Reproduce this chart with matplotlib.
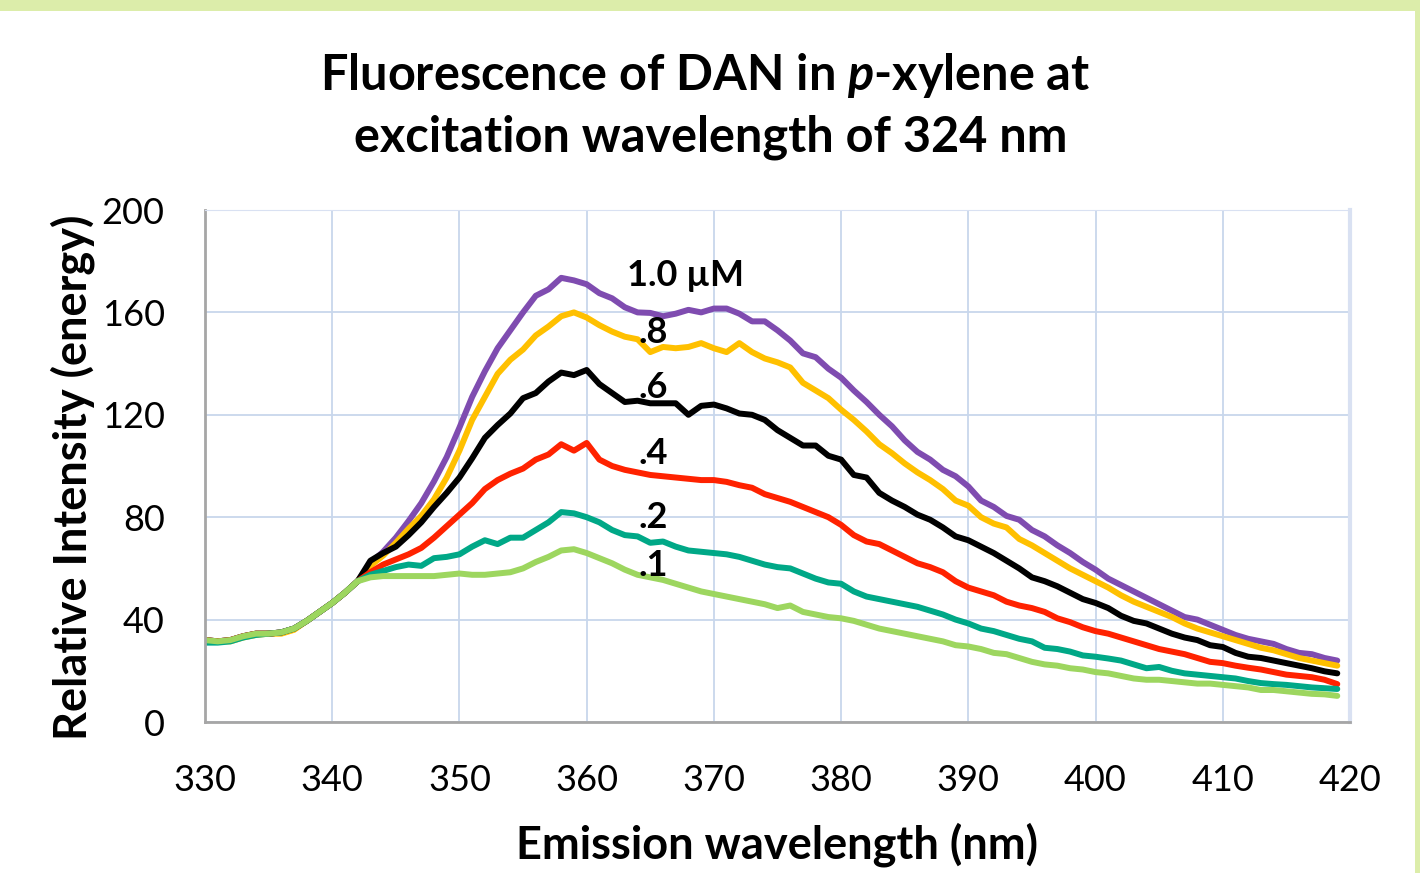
import numpy as np
import matplotlib
matplotlib.use("Agg")
import matplotlib.pyplot as plt
from matplotlib.patches import Rectangle

plt.rcParams['font.family'] = ['Lato', 'DejaVu Sans']
plt.rcParams['mathtext.fontset'] = 'custom'
plt.rcParams['mathtext.it'] = 'Lato:italic:bold'
plt.rcParams['mathtext.rm'] = 'Lato:bold'

# emission wavelength, 1 nm steps
wavelength = np.arange(330, 420)

# shared rise 330-342 nm
base = [32, 31.5, 32, 33.5, 34.5, 34.5, 35, 36.5, 39.5, 43, 46.5, 50.5, 55]

conc_01 = base + [56.5, 57, 57, 57, 57, 57, 57.5, 58, 57.5, 57.5, 58, 58.5, 60, 62.5, 64.5, 67, 67.5,
                  66, 64, 62, 59.5, 57.5, 56.5, 55.5, 54, 52.5, 51, 50, 49, 48, 47, 46, 44.5, 45.5,
                  43, 42, 41, 40.5, 39.5, 38, 36.5, 35.5, 34.5, 33.5, 32.5, 31.5, 30, 29.5, 28.5, 27,
                  26.5, 25, 23.5, 22.5, 22, 21, 20.5, 19.5, 19, 18, 17, 16.5, 16.5, 16, 15.5, 15, 15,
                  14.5, 14, 13.5, 12.5, 12.5, 12, 11.5, 11, 10.8, 10.2]

conc_02 = [31, 31, 31.5, 33, 34, 34.5, 35, 36.5, 39.5, 43, 46.5, 50.5, 55] + \
          [57.5, 59, 60.5, 61.5, 61, 64, 64.5, 65.5, 68.5, 71, 69.5, 72, 72, 75, 78, 82, 81.5,
           80, 78, 75, 73, 72.5, 70, 70.5, 68.5, 67, 66.5, 66, 65.5, 64.5, 63, 61.5, 60.5, 60,
           58, 56, 54.5, 54, 51, 49, 48, 47, 46, 45, 43.5, 42, 40, 38.5, 36.5, 35.5, 34, 32.5,
           31.5, 29, 28.5, 27.5, 26, 25.5, 24.8, 24, 22.5, 21, 21.5, 20, 19, 18.5, 18, 17.5, 17,
           16, 15.2, 14.8, 14.5, 14, 13.5, 13.2, 12.9]

conc_04 = base + [58.5, 61.5, 63.5, 65.5, 68, 72, 76.5, 81, 85.5, 91, 94.5, 97, 99, 102.5, 104.5,
                  108.5, 106, 109, 102.5, 100, 98.5, 97.5, 96.5, 96, 95.5, 95, 94.5, 94.5, 93.8,
                  92.5, 91.5, 89, 87.5, 86, 84, 82, 80, 77, 73, 70.5, 69.5, 67, 64.5, 62, 60.5,
                  58.5, 55, 52.5, 51, 49.5, 47, 45.5, 44.5, 43, 40.5, 39, 37, 35.5, 34.5, 33, 31.5,
                  30, 28.5, 27.5, 26.5, 25, 23.5, 23, 22, 21.2, 20.5, 19.5, 18.5, 18, 17.5, 16.5,
                  14.8]

conc_06 = base + [63, 66, 68.5, 73, 78, 84, 89.5, 95.5, 103, 111, 116, 120.5, 126.5, 128.5, 133,
                  136.5, 135.5, 137.5, 132, 128.5, 125, 125.5, 124.5, 124.5, 124.5, 120, 123.5, 124,
                  122.5, 120.5, 120, 118, 114, 111, 108, 108, 104, 102.5, 96.5, 95.5, 89.5, 86.5,
                  84, 81, 79, 76, 72.5, 71, 68.5, 66, 63, 60, 56.5, 55, 53, 50.5, 48, 46.5, 44.5,
                  41.5, 39.5, 38.5, 36.5, 34.5, 33, 32, 30, 29.3, 27, 25.5, 25, 24, 23, 22, 21,
                  19.8, 19]

conc_08 = [31.5, 31.5, 31.5, 33, 34, 34.5, 34.5, 36, 39.5, 43, 46.5, 50.5, 55] + \
          [61, 65, 70, 75.5, 80.5, 87, 95.5, 106, 118, 127, 136, 141.5, 145.5, 151, 154.5, 158.5,
           160, 158, 155, 152.5, 150.5, 149.5, 144.5, 146.5, 146, 146.5, 148, 146, 144.5, 148,
           144.5, 142, 140.5, 138.5, 132.5, 129.5, 126.5, 122, 118, 113.5, 108.5, 105, 101,
           97.5, 94.5, 91, 86.5, 84.5, 80, 77.5, 76, 71.5, 69, 66, 63, 60, 57.5, 55, 52.5, 49.5,
           47, 45, 43, 41, 38.5, 36.5, 35, 33.5, 32, 30.5, 29, 28, 26.5, 25, 24, 23, 22]

conc_10 = base + [62, 66.5, 72, 78.5, 85.5, 94, 103.5, 115, 127, 137, 146, 153, 160, 166.5, 169,
                  173.5, 172.5, 171, 167.5, 165.5, 162, 160, 159.8, 158.5, 159.5, 161, 160, 161.5,
                  161.5, 159.5, 156.5, 156.5, 153, 149, 144, 142.5, 138, 134.5, 129.5, 125, 120,
                  115.5, 110, 105.5, 102.5, 98.5, 96, 92, 86.5, 84, 80.5, 79, 75, 72.5, 69, 66,
                  62.5, 59.5, 56, 53.5, 51, 48.5, 46, 43.5, 41, 40, 38, 36, 34, 32.5, 31.5, 30.5,
                  28.5, 27, 26.5, 25, 24]

series = [conc_10, conc_08, conc_06, conc_04, conc_02, conc_01]
colors = ['#7f4cb0', '#ffc000', '#000000', '#ff2200', '#00a887', '#9dd65f']

labels = ['1.0 µM', '.8', '.6', '.4', '.2', '.1']
label_x = [367.8, 365.2, 365.2, 365.2, 365.2, 365.2]
label_y = [174.5, 152, 130.5, 105, 80, 61]

fig = plt.figure(figsize=(14.2, 8.73), dpi=100)
fig.patch.set_facecolor('white')
fig.patches.append(Rectangle((0, 1 - 11 / 873), 1, 11 / 873, transform=fig.transFigure,
                             facecolor='#dcedaa', edgecolor='none', zorder=0))
fig.patches.append(Rectangle((1 - 5 / 1420, 0), 5 / 1420, 1, transform=fig.transFigure,
                             facecolor='#dcedaa', edgecolor='none', zorder=0))

ax = fig.add_axes([205 / 1420, 151 / 873, 1145 / 1420, 512 / 873])

for vals, c in zip(series, colors):
    ax.plot(wavelength, vals, color=c, lw=4.3, solid_capstyle='round', solid_joinstyle='round')

for t, lx, ly in zip(labels, label_x, label_y):
    ax.text(lx, ly, t, fontsize=26, fontweight='bold', ha='center', va='center')

ax.set_xlim(330, 420)
ax.set_ylim(0, 200)
ax.set_xticks(range(330, 421, 10))
ax.set_yticks(range(0, 201, 40))
ax.grid(True, color='#c8d7ec', lw=1.3)
ax.set_axisbelow(True)
ax.tick_params(axis='both', length=0, labelsize=26)
ax.tick_params(axis='x', pad=30)
ax.tick_params(axis='y', pad=29)

ax.spines['left'].set_color('#a6a6a6')
ax.spines['left'].set_linewidth(2)
ax.spines['bottom'].set_color('#a6a6a6')
ax.spines['bottom'].set_linewidth(2)
ax.spines['top'].set_color('#d9e1f2')
ax.spines['right'].set_color('#d9e1f2')
ax.spines['right'].set_linewidth(3)

ax.set_xlabel('Emission wavelength (nm)', fontsize=32.5, fontweight='bold')
ax.set_ylabel('Relative Intensity (energy)', fontsize=32.5, fontweight='bold')
ax.xaxis.set_label_coords(0.4996, -0.240)
ax.yaxis.set_label_coords(-0.1153, 0.4785)
ax.xaxis.label.set_va('center')
ax.yaxis.label.set_va('center')

fig.text(0.4965, 0.914, 'Fluorescence of DAN in $p$-xylene at', fontsize=35, fontweight='bold',
         ha='center', va='center')
fig.text(0.5007, 0.843, 'excitation wavelength of 324 nm', fontsize=35, fontweight='bold',
         ha='center', va='center')

fig.savefig('out.png', dpi=100)
